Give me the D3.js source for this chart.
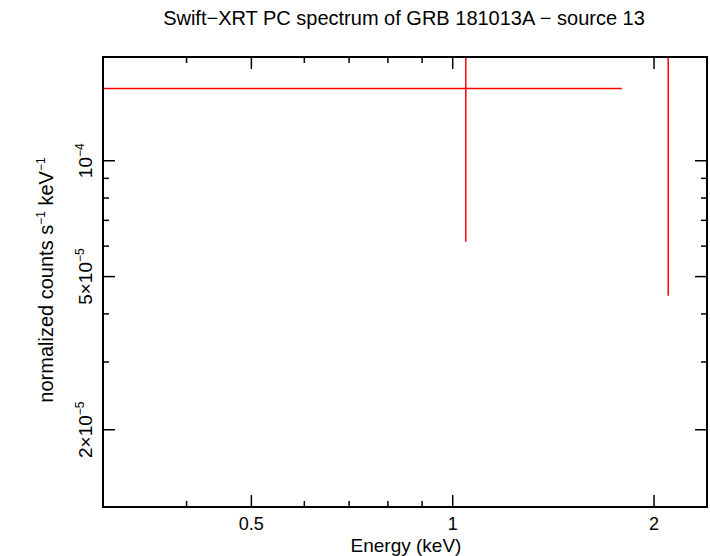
<!DOCTYPE html>
<html><head><meta charset="utf-8">
<script src="https://cdn.jsdelivr.net/npm/d3@7"></script>
<style>body{margin:0;background:#fff}text{font-family:"Liberation Sans",Arial,sans-serif}</style>
</head><body>
<script>
// spectrum bins: energy centre, low/high edge, rate, low/high error
const energy = [1.046, 2.10];
const eLo = [0.25, 1.79];
const eHi = [1.79, 2.45];
const rate = [1.54e-4, 3.0e-4];
const rLo = [6.16e-5, 4.46e-5];
const rHi = [3.0e-4, 6.0e-4];

const xTicksMajor = [0.5, 1, 2];
const xTicksMinor = [0.4, 0.6, 0.7, 0.8, 0.9];
const yTicksMajor = [1e-4, 5e-5, 2e-5];
const yTicksMinor = [9e-5, 8e-5, 7e-5, 6e-5, 4e-5, 3e-5];

const W = 710, H = 556;
const L = 103, R = 707, T = 57, B = 507;

const svg = d3.select("body").append("svg").attr("width", W).attr("height", H);

const x = d3.scaleLog().domain([0.3, 2.4]).range([L, R]);
const y = d3.scaleLog().domain([1.26e-5, 1.86e-4]).range([B, T]);

svg.append("defs").append("clipPath").attr("id", "clip")
  .append("rect").attr("x", L).attr("y", T).attr("width", R - L).attr("height", B - T);

const g = svg.append("g").attr("clip-path", "url(#clip)");
energy.forEach((e, i) => {
  g.append("line").attr("x1", x(eLo[i])).attr("x2", x(eHi[i]))
    .attr("y1", y(rate[i])).attr("y2", y(rate[i]))
    .attr("stroke", "red").attr("stroke-width", 1.5);
  g.append("line").attr("x1", x(e)).attr("x2", x(e))
    .attr("y1", y(rLo[i])).attr("y2", y(rHi[i]))
    .attr("stroke", "red").attr("stroke-width", 1.5);
});

// frame
svg.append("rect").attr("x", L).attr("y", T).attr("width", R - L).attr("height", B - T)
  .attr("fill", "none").attr("stroke", "#000").attr("stroke-width", 2);

const tk = svg.append("g").attr("stroke", "#000").attr("stroke-width", 1.5);
function xt(v, len) {
  tk.append("line").attr("x1", x(v)).attr("x2", x(v)).attr("y1", B).attr("y2", B - len);
  tk.append("line").attr("x1", x(v)).attr("x2", x(v)).attr("y1", T).attr("y2", T + len);
}
function yt(v, len) {
  tk.append("line").attr("x1", L).attr("x2", L + len).attr("y1", y(v)).attr("y2", y(v));
  tk.append("line").attr("x1", R).attr("x2", R - len).attr("y1", y(v)).attr("y2", y(v));
}
xTicksMajor.forEach(v => xt(v, 12));
xTicksMinor.forEach(v => xt(v, 6));
yTicksMajor.forEach(v => yt(v, 12));
yTicksMinor.forEach(v => yt(v, 6));

xTicksMajor.forEach(v => {
  svg.append("text").attr("x", x(v)).attr("y", 530).attr("text-anchor", "middle")
    .attr("font-size", 18).text(v);
});

function ylab(v, pre, exp) {
  const t = svg.append("text").attr("transform", `translate(92,${y(v)}) rotate(-90)`)
    .attr("text-anchor", "middle").attr("font-size", 19);
  t.append("tspan").text(pre + "10");
  t.append("tspan").attr("dy", -8).attr("font-size", 12).text(exp);
}
ylab(1e-4, "", "−4");
ylab(5e-5, "5×", "−5");
ylab(2e-5, "2×", "−5");

svg.append("text").attr("x", 406).attr("y", 552).attr("text-anchor", "middle")
  .attr("font-size", 19).text("Energy (keV)");

const yl = svg.append("text").attr("transform", "translate(53,280) rotate(-90)")
  .attr("text-anchor", "middle").attr("font-size", 20);
yl.append("tspan").text("normalized counts s");
yl.append("tspan").attr("dy", -8).attr("font-size", 12).text("−1");
yl.append("tspan").attr("dy", 8).text(" keV");
yl.append("tspan").attr("dy", -8).attr("font-size", 12).text("−1");

svg.append("text").attr("x", 404).attr("y", 25).attr("text-anchor", "middle")
  .attr("font-size", 20).text("Swift−XRT PC spectrum of GRB 181013A − source 13");
</script>
</body></html>
